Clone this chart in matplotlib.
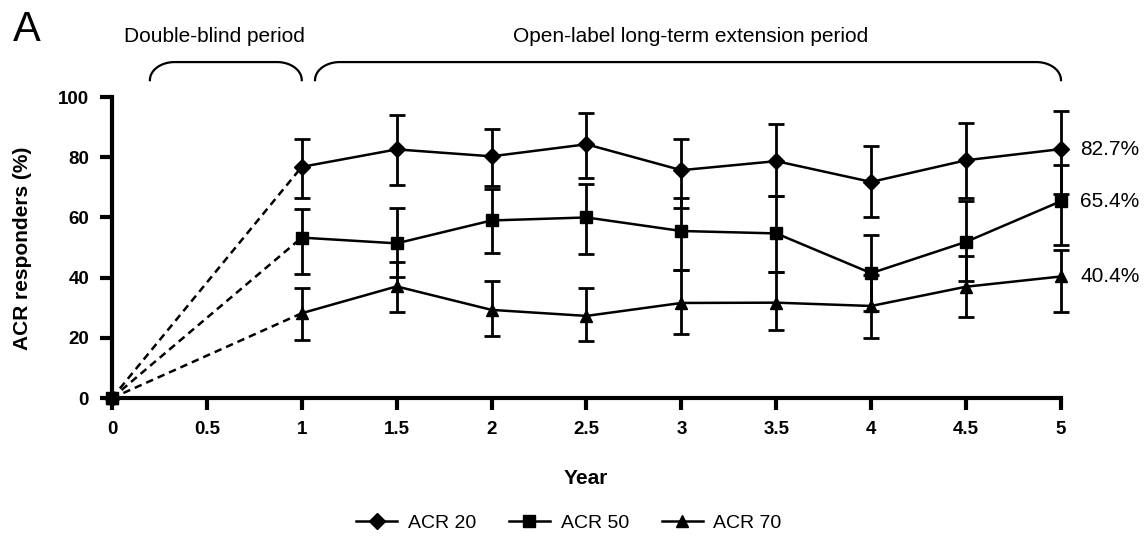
import numpy as np
import matplotlib
matplotlib.use("Agg")
import matplotlib.pyplot as plt
import matplotlib.transforms as mtransforms

plt.rcParams['font.family'] = ['Liberation Sans', 'DejaVu Sans']

# data
years = [1, 1.5, 2, 2.5, 3, 3.5, 4, 4.5, 5]
start = [0, 1]

acr20 = [76.8, 82.6, 80.3, 84.3, 75.7, 78.7, 71.8, 79.0, 82.7]
acr20_lo = [66.3, 70.9, 70.5, 73.1, 63.0, 67.1, 60.2, 66.6, 67.9]
acr20_hi = [85.9, 94.1, 89.5, 94.8, 86.2, 90.9, 83.6, 91.4, 95.2]

acr50 = [53.3, 51.4, 59.0, 60.0, 55.5, 54.7, 41.5, 51.9, 65.4]
acr50_lo = [41.1, 40.1, 48.3, 47.9, 42.5, 42.0, 29.0, 38.9, 50.8]
acr50_hi = [62.8, 63.0, 69.3, 71.0, 66.6, 67.1, 54.1, 65.5, 77.3]

acr70 = [28.2, 37.1, 29.3, 27.3, 31.6, 31.7, 30.6, 37.0, 40.4]
acr70_lo = [19.4, 28.7, 20.7, 19.0, 21.4, 22.7, 19.9, 26.9, 28.5]
acr70_hi = [36.5, 45.3, 38.9, 36.5, 42.5, 42.0, 41.0, 47.3, 49.2]

end_labels = ["82.7%", "65.4%", "40.4%"]
xticks = [0, 0.5, 1, 1.5, 2, 2.5, 3, 3.5, 4, 4.5, 5]
xtick_labels = ["0", "0.5", "1", "1.5", "2", "2.5", "3", "3.5", "4", "4.5", "5"]
yticks = [0, 20, 40, 60, 80, 100]

series = [
    ("ACR 20", acr20, acr20_lo, acr20_hi, "D", 8),
    ("ACR 50", acr50, acr50_lo, acr50_hi, "s", 8),
    ("ACR 70", acr70, acr70_lo, acr70_hi, "^", 9),
]

fig = plt.figure(figsize=(11.47, 5.38), dpi=100)
ax = fig.add_axes([0.0976, 0.260, 0.8274, 0.5597])

handles = []
for (name, vals, lo, hi, mk, ms), lab in zip(series, end_labels):
    v = np.array(vals)
    err = [v - np.array(lo), np.array(hi) - v]
    eb = ax.errorbar(years, v, yerr=err, fmt='none', ecolor='black',
                     elinewidth=2, capsize=6, capthick=2, zorder=2)
    for art in eb.lines[1] + eb.lines[2]:
        art.set_clip_on(False)
    ax.plot(start, [0, vals[0]], color='black', lw=1.8, ls=(0, (3, 2)), zorder=2)
    ln, = ax.plot(years, vals, color='black', lw=1.8, marker=mk, ms=ms,
                  label=name, zorder=3, clip_on=False)
    ax.plot([0], [0], marker=mk, ms=ms, color='black', clip_on=False, zorder=4)
    handles.append(ln)
    ax.annotate(lab, xy=(years[-1], vals[-1]), xytext=(14, 0),
                textcoords='offset points', va='center', ha='left', fontsize=15)

ax.set_xlim(0, 5)
ax.set_ylim(0, 100)
ax.set_xticks(xticks)
ax.set_xticklabels(xtick_labels)
ax.set_yticks(yticks)
for s in ['top', 'right']:
    ax.spines[s].set_visible(False)
for s in ['left', 'bottom']:
    ax.spines[s].set_linewidth(3)
ax.tick_params(direction='out', length=8.5, width=3, labelsize=13.5, pad=8)
for t in ax.get_xticklabels() + ax.get_yticklabels():
    t.set_fontweight('bold')

# braces over the two periods
trans = mtransforms.blended_transform_factory(ax.transData, ax.transAxes)

def brace(x1, x2, top=1.116, bot=1.056, rx=0.13):
    th = np.linspace(0, np.pi / 2, 30)
    lx = x1 + rx - rx * np.cos(th)
    ly = bot + (top - bot) * np.sin(th)
    rxs = x2 - rx + rx * np.cos(th[::-1])
    rys = bot + (top - bot) * np.sin(th[::-1])
    xs = np.concatenate([lx, rxs])
    ys = np.concatenate([ly, rys])
    ax.plot(xs, ys, color='black', lw=1.6, transform=trans, clip_on=False)

brace(0.2, 1.0)
brace(1.07, 5.0)

ax.text(0.54, 1.2, "Double-blind period", transform=trans, ha='center',
        va='center', fontsize=15)
ax.text(3.05, 1.2, "Open-label long-term extension period", transform=trans,
        ha='center', va='center', fontsize=15)

fig.text(0.023, 0.944, "A", fontsize=30, ha='center', va='center')
fig.text(0.02, 0.539, "ACR responders (%)", rotation=90, ha='center',
         va='center', fontsize=15, fontweight='bold')
fig.text(0.511, 0.1115, "Year", ha='center', va='center', fontsize=15,
         fontweight='bold')

fig.legend(handles=handles, loc='center', bbox_to_anchor=(0.496, 0.028),
           ncol=3, frameon=False, fontsize=14, handlelength=2.1,
           columnspacing=1.7, handletextpad=0.55)

fig.savefig("out.png", dpi=100)
